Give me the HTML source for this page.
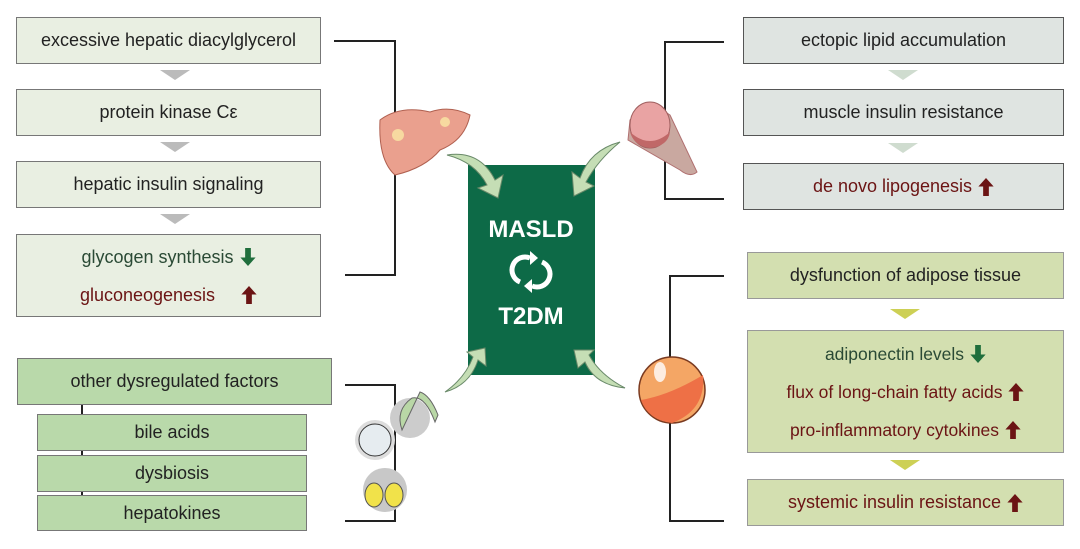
<!DOCTYPE html>
<html><head><style>
body{margin:0;width:1080px;height:549px;background:#fff;position:relative;overflow:hidden;font-family:"Liberation Sans",Arial,sans-serif}
.b{position:absolute;box-sizing:border-box;border:1.5px solid #777;display:flex;align-items:center;justify-content:center;font-size:18px;color:#222;text-align:center}
.l{background:#e9efe2}
.r{background:#dfe4e1;border-color:#555}
.y{background:#d3dfb0;border-color:#999}
.g{background:#b9d9aa;border-color:#777}
.red{color:#6b1414}.grn{color:#2a4a35}
.ml>div{height:20px;line-height:20px;display:flex;align-items:center;justify-content:center}
svg.a{width:16px;height:20px;margin-left:6px}
</style></head><body>
<svg width="0" height="0" style="position:absolute"><defs>
<path id="up" d="M8 1 L16 10 L11 10 L11 20 L5 20 L5 10 L0 10Z"/>
<path id="dn" d="M8 20 L16 11 L11 11 L11 1 L5 1 L5 11 L0 11Z"/>
</defs></svg>
<!-- left column -->
<div class="b l" style="left:16px;top:17px;width:305px;height:47px">excessive hepatic diacylglycerol</div>
<div class="b l" style="left:16px;top:89px;width:305px;height:47px">protein kinase Cε</div>
<div class="b l" style="left:16px;top:161px;width:305px;height:47px">hepatic insulin signaling</div>
<div class="b l ml" style="left:16px;top:234px;width:305px;height:83px;flex-direction:column;gap:18px">
<div class="grn">glycogen synthesis <svg class="a" viewBox="0 0 16 21"><use href="#dn" fill="#1f6e3c"/></svg></div>
<div class="red">gluconeogenesis &nbsp;&nbsp;&nbsp;<svg class="a" viewBox="0 0 16 21"><use href="#up" fill="#6b1414"/></svg></div></div>
<svg style="position:absolute;left:0;top:0" width="1080" height="549">
<g fill="#bbb"><path d="M160 70 L190 70 L175 80Z"/><path d="M160 142 L190 142 L175 152Z"/><path d="M160 214 L190 214 L175 224Z"/></g>
<g fill="#cfdccf"><path d="M888 70 L918 70 L903 80Z"/><path d="M888 143 L918 143 L903 153Z"/></g>
<g fill="#cdd055"><path d="M890 309 L920 309 L905 319Z"/><path d="M890 460 L920 460 L905 470Z"/></g>
<g fill="none" stroke="#222" stroke-width="2">
<path d="M334 41 H395 V275 H345"/>
<path d="M724 42 H665 V199 H724"/>
<path d="M724 276 H670 V521 H724"/>
<path d="M345 385 H395 V521 H345"/>
<path d="M82 404 V414 M82 450 V455 M82 491 V495"/>
</g>
<rect x="468" y="165" width="127" height="210" fill="#0d6a47"/>
<text x="531" y="237" fill="#fff" font-size="24" font-weight="bold" text-anchor="middle" font-family="Liberation Sans">MASLD</text>
<text x="531" y="324" fill="#fff" font-size="24" font-weight="bold" text-anchor="middle" font-family="Liberation Sans">T2DM</text>
<g fill="none" stroke="#fff" stroke-width="5"><path d="M520 282 A12 12 0 0 1 530 258"/><path d="M542 262 A12 12 0 0 1 532 286"/></g>
<g fill="#fff"><path d="M530 251 L538 258 L530 265Z"/><path d="M532 279 L524 286 L532 293Z"/></g>
<g fill="#c5deb5" stroke="#6a8a6a" stroke-width="1">
<path d="M447 155 Q480 150 495 180 L503 175 L498 198 L478 188 L487 185 Q475 162 447 155Z"/>
<path d="M620 142 Q590 150 580 178 L572 172 L574 196 L594 186 L586 182 Q598 160 620 142Z"/>
<path d="M445 392 Q470 385 478 360 L486 366 L485 348 L467 352 L473 357 Q465 378 445 392Z"/>
<path d="M625 388 Q595 385 585 362 L578 368 L574 350 L594 350 L589 355 Q600 375 625 388Z"/>
</g>
<!-- liver -->
<path d="M380 120 Q400 105 430 112 Q450 105 470 115 Q465 140 440 150 Q425 168 395 175 Q378 160 380 120Z" fill="#eaa08e" stroke="#b06050"/>
<circle cx="398" cy="135" r="6" fill="#f7d9a0"/><circle cx="445" cy="122" r="5" fill="#f7d9a0"/>
<!-- muscle -->
<path d="M630 120 Q650 100 670 115 L697 172 Q690 178 680 170 L628 140Z" fill="#c9a8a0" stroke="#b07070"/>
<ellipse cx="650" cy="125" rx="20" ry="23" fill="#e9a3a3" stroke="#a06060"/>
<path d="M630 132 Q650 150 670 132 Q668 146 650 148 Q634 146 630 132Z" fill="#c06868"/>
<!-- gallbladder & bacteria -->
<circle cx="410" cy="418" r="20" fill="#ccc"/><path d="M402 430 Q395 410 412 398 Q425 395 435 422 L438 415 Q430 395 420 392 Z" fill="#b9d7a6" stroke="#666"/>
<circle cx="375" cy="440" r="20" fill="#ddd"/><circle cx="375" cy="440" r="16" fill="#e6ecf0" stroke="#333"/>
<circle cx="385" cy="490" r="22" fill="#c8c8c8"/><ellipse cx="374" cy="495" rx="9" ry="12" fill="#f1e24a" stroke="#555"/><ellipse cx="394" cy="495" rx="9" ry="12" fill="#f1e24a" stroke="#555"/>
<!-- fat orb -->
<circle cx="672" cy="390" r="33" fill="#f4a665" stroke="#7a3a20" stroke-width="1.5"/>
<path d="M641 400 Q670 395 703 375 Q706 410 672 423 Q648 420 641 400Z" fill="#ee7046"/>
<ellipse cx="660" cy="372" rx="6" ry="10" fill="#fff" opacity=".8"/>
</svg>
<!-- right -->
<div class="b r" style="left:743px;top:17px;width:321px;height:47px">ectopic lipid accumulation</div>
<div class="b r" style="left:743px;top:89px;width:321px;height:47px">muscle insulin resistance</div>
<div class="b r red" style="left:743px;top:163px;width:321px;height:47px">de novo lipogenesis<svg class="a" viewBox="0 0 16 21"><use href="#up" fill="#6b1414"/></svg></div>
<div class="b y" style="left:747px;top:252px;width:317px;height:47px">dysfunction of adipose tissue</div>
<div class="b y ml" style="left:747px;top:330px;width:317px;height:123px;flex-direction:column;gap:18px;font-size:17.5px">
<div class="grn">adiponectin levels <svg class="a" viewBox="0 0 16 21"><use href="#dn" fill="#1f6e3c"/></svg></div>
<div class="red">flux of long-chain fatty acids <svg class="a" viewBox="0 0 16 21"><use href="#up" fill="#6b1414"/></svg></div>
<div class="red">pro-inflammatory cytokines <svg class="a" viewBox="0 0 16 21"><use href="#up" fill="#6b1414"/></svg></div></div>
<div class="b y red" style="left:747px;top:479px;width:317px;height:47px">systemic insulin resistance <svg class="a" viewBox="0 0 16 21"><use href="#up" fill="#6b1414"/></svg></div>
<!-- bottom left -->
<div class="b g" style="left:17px;top:358px;width:315px;height:47px">other dysregulated factors</div>
<div class="b g" style="left:37px;top:414px;width:270px;height:37px">bile acids</div>
<div class="b g" style="left:37px;top:455px;width:270px;height:37px">dysbiosis</div>
<div class="b g" style="left:37px;top:495px;width:270px;height:36px">hepatokines</div>
</body></html>
